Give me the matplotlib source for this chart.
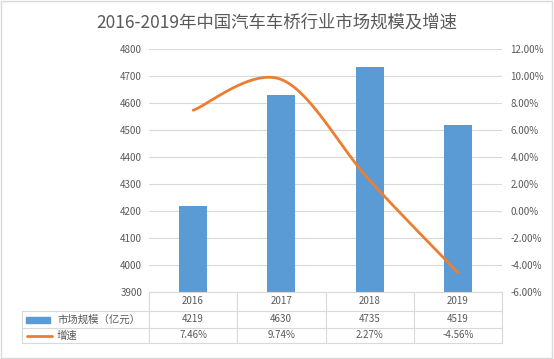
import numpy as np
import matplotlib.pyplot as plt
from matplotlib.lines import Line2D
from matplotlib.patches import Rectangle

plt.rcParams['font.family'] = ['Noto Sans CJK SC', 'DejaVu Sans']

title = '2016-2019年中国汽车车桥行业市场规模及增速'
years = ['2016', '2017', '2018', '2019']
scale = [4219, 4630, 4735, 4519]          # 市场规模（亿元）
growth = [7.46, 9.74, 2.27, -4.56]        # 增速 %
bar_name = '市场规模（亿元）'
line_name = '增速'

W, H = 554, 359
fig = plt.figure(figsize=(W / 100, H / 100), dpi=100)

def fx(px):
    return px / W

def fy(py):
    return 1 - py / H

# plot area in pixel coords
L, R, T, B = 149, 502, 49, 292
ax = fig.add_axes([fx(L), fy(B), fx(R) - fx(L), fy(T) - fy(B)])
x = np.arange(len(years))
blue = '#5B9BD5'
orange = '#ED7D31'
grey = '#595959'
ax.bar(x, scale, width=0.32, color=blue, zorder=2)
ax.set_ylim(3900, 4800)
ax.set_yticks(np.arange(3900, 4801, 100))
ax.set_xlim(-0.5, len(years) - 0.5)
ax.set_xticks([])
ax.grid(axis='y', color='#D9D9D9', linewidth=0.8, zorder=0)
for s in ax.spines.values():
    s.set_visible(False)
ax.tick_params(axis='y', length=0, labelsize=7, labelcolor=grey, pad=5)

ax2 = ax.twinx()
ax2.set_ylim(-6, 12)
ax2.set_yticks(np.arange(-6, 12.1, 2))
ax2.set_yticklabels(['%.2f%%' % v for v in np.arange(-6, 12.1, 2)])
ax2.tick_params(axis='y', length=0, labelsize=7, labelcolor=grey, pad=6)
for s in ax2.spines.values():
    s.set_visible(False)

# smoothed line like excel (bezier through the data points)
g = np.array(growth, dtype=float)
xs, ys = [], []
pts = np.concatenate([[g[0]], g, [g[-1]]])
xp = np.concatenate([[x[0]], x, [x[-1]]]).astype(float)
t = np.linspace(0, 1, 40)
for i in range(1, len(g)):
    p0, p1, p2, p3 = pts[i - 1], pts[i], pts[i + 1], pts[i + 2]
    q0, q1, q2, q3 = xp[i - 1], xp[i], xp[i + 1], xp[i + 2]
    c1y, c2y = p1 + (p2 - p0) / 6, p2 - (p3 - p1) / 6
    c1x, c2x = q1 + (q2 - q0) / 6, q2 - (q3 - q1) / 6
    by = (1 - t) ** 3 * p1 + 3 * (1 - t) ** 2 * t * c1y + 3 * (1 - t) * t ** 2 * c2y + t ** 3 * p2
    bx = (1 - t) ** 3 * q1 + 3 * (1 - t) ** 2 * t * c1x + 3 * (1 - t) * t ** 2 * c2x + t ** 3 * q2
    xs.extend(bx)
    ys.extend(by)
ax2.plot(xs, ys, color=orange, linewidth=2, solid_capstyle='round')

fig.text(0.5, fy(22), title, ha='center', va='center', fontsize=12.5, color=grey)

# data table
lc = '#D9D9D9'
cols = [149, 237, 325.5, 414, 502]
rows = [292, 311, 328, 343]
tl = 22

def hline(y, x0, x1):
    fig.add_artist(Line2D([fx(x0), fx(x1)], [fy(y), fy(y)], color=lc, linewidth=0.8))

def vline(xv, y0, y1):
    fig.add_artist(Line2D([fx(xv), fx(xv)], [fy(y0), fy(y1)], color=lc, linewidth=0.8))

hline(rows[0], cols[0], cols[-1])
for r in rows[1:]:
    hline(r, tl, cols[-1])
for c in cols:
    vline(c, rows[0], rows[-1])
vline(tl, rows[1], rows[-1])

row_vals = [years, [str(v) for v in scale], ['%.2f%%' % v for v in growth]]
for ri, vals in enumerate(row_vals):
    yc = (rows[ri] + rows[ri + 1]) / 2
    for ci, v in enumerate(vals):
        xc = (cols[ci] + cols[ci + 1]) / 2
        fig.text(fx(xc), fy(yc), v, ha='center', va='center', fontsize=7, color=grey)

y1 = (rows[1] + rows[2]) / 2
fig.add_artist(Rectangle((fx(26), fy(y1 + 3)), fx(50) - fx(26), fy(y1 - 3) - fy(y1 + 3),
                         color=blue, transform=fig.transFigure))
fig.text(fx(57), fy(y1), bar_name, ha='left', va='center', fontsize=7.5, color=grey)
y2 = (rows[2] + rows[3]) / 2
fig.add_artist(Line2D([fx(27), fx(52)], [fy(y2), fy(y2)], color=orange, linewidth=2,
                      solid_capstyle='round'))
fig.text(fx(57), fy(y2), line_name, ha='left', va='center', fontsize=7.5, color=grey)

# outer border
fig.add_artist(Rectangle((0.002, 0.003), 0.995, 0.994, fill=False, edgecolor='#D9D9D9',
                         linewidth=1, transform=fig.transFigure))

fig.savefig('out.png', dpi=100)
